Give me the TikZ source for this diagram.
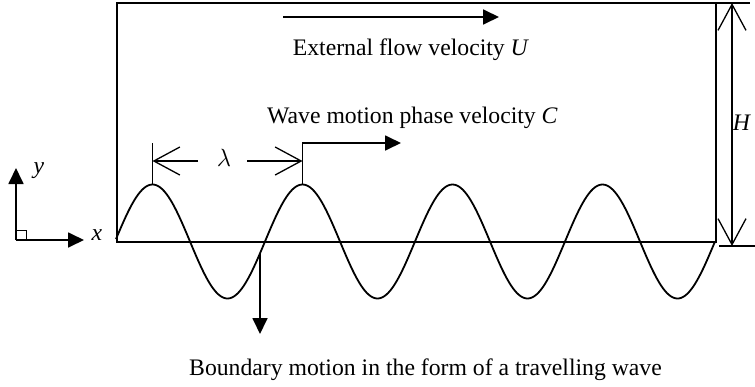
\documentclass[tikz,border=0pt]{standalone}
\usepackage{fontspec}
\setmainfont{Liberation Serif}
\usetikzlibrary{arrows.meta}
\begin{document}
\begin{tikzpicture}[x=1pt,y=-1pt,
  thin line/.style={line width=1.3pt},
  thick line/.style={line width=1.8pt},
  fillarrow/.style={thick line, -{Triangle[length=16pt,width=15pt]}},
  openarrows/.style={thin line, {Straight Barb[length=26pt,width=28pt]}-{Straight Barb[length=26pt,width=28pt]}},
  openarrow/.style={thin line, -{Straight Barb[length=26pt,width=28pt]}},
  lbl/.style={font=\fontsize{23.7}{28}\selectfont, inner sep=0pt}
]
\useasboundingbox (0,0) rectangle (755,386);
% box
\coordinate (bl) at (117,242);
\coordinate (tl) at (117,3);
\coordinate (tr) at (716,3);
\coordinate (br) at (716,242);
\draw[thin line] (bl) -- (tl) -- (tr) -- (br) -- cycle;
% H dimension
\coordinate (ht1) at (750,3);
\coordinate (hb0) at (719,246);
\coordinate (hb1) at (755,246);
\draw[thin line] (tr) -- (ht1);
\draw[thin line] (hb0) -- (hb1);
\coordinate (htop) at (732,3);
\coordinate (hbot) at (732,246);
\draw[openarrows] (htop) -- (hbot);
\node[lbl, anchor=base] (H) at (742,130) {\textit{H}};
% wave
\draw[thick line] plot[domain=116:715, samples=300] (\x, {241.5 - 57*sin(2.4*(\x-115))});
\coordinate (p1) at (152.5,184.5);
\coordinate (p2) at (302.5,184.5);
\coordinate (w1) at (260,{241.5 - 57*sin(2.4*(260-115))});
% lambda
\coordinate (p1t) at (152.5,143);
\coordinate (p2t) at (302.5,143);
\draw[thin line] (p1) -- (p1t);
\coordinate (la) at (152.5,161);
\coordinate (lb) at (198,161);
\coordinate (lc) at (247,161);
\coordinate (ld) at (302.5,161);
\draw[openarrow] (lb) -- (la);
\draw[openarrow] (lc) -- (ld);
\node[lbl, anchor=base] (lam) at (224,166) {$\lambda$};
% phase velocity
\coordinate (cv) at (401,143);
\draw[fillarrow] (p2) -- (p2t) -- (cv);
\node[lbl, anchor=base] (Ctext) at (412.5,123) {Wave motion phase velocity \textit{C}};
% external flow
\coordinate (u0) at (283,17);
\coordinate (u1) at (499,17);
\draw[fillarrow] (u0) -- (u1);
\node[lbl, anchor=base] (Utext) at (411,55) {External flow velocity \textit{U}};
% boundary motion
\coordinate (w2) at (260,334);
\draw[fillarrow] (w1) -- (w2);
\node[lbl, anchor=base] (Btext) at (425.5,375) {Boundary motion in the form of a travelling wave};
% axes
\coordinate (o) at (16,240);
\coordinate (ya) at (16,168);
\coordinate (xa) at (84,240);
\draw[fillarrow] (o) -- (ya);
\draw[fillarrow] (o) -- (xa);
\draw[line width=1pt] (16,230) -- (26,230) -- (26,240);
\node[lbl, anchor=base] (ylab) at (39,173) {\textit{y}};
\node[lbl, anchor=base] (xlab) at (97,240) {\textit{x}};
\end{tikzpicture}
\end{document}
